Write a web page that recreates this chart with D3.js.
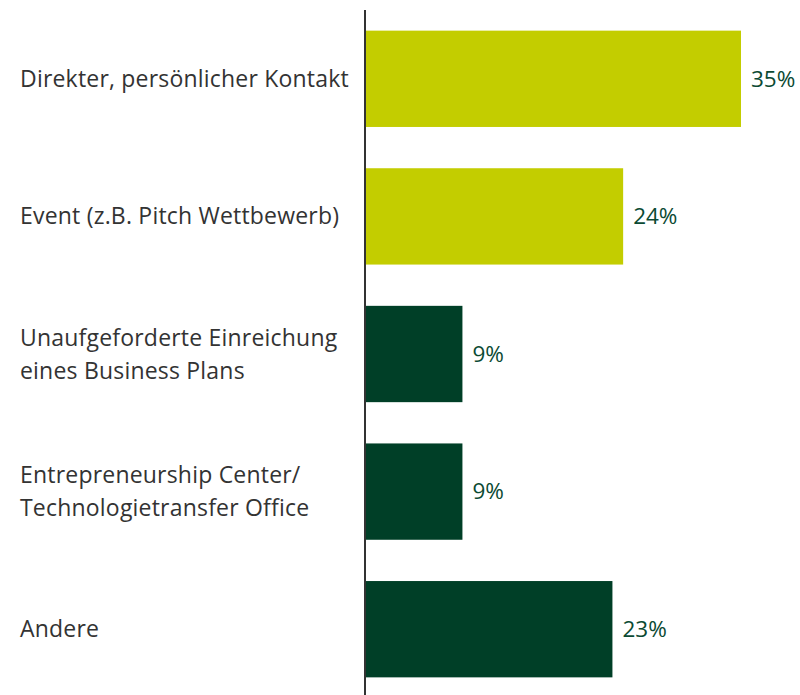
<!DOCTYPE html>
<html>
<head>
<meta charset="utf-8">
<script src="https://cdn.jsdelivr.net/npm/d3@7"></script>
<style>
  body { margin: 0; background: #fff; }
  text { font-family: "Open Sans", sans-serif; }
</style>
</head>
<body>
<div id="chart"></div>
<script>
const categories = [
  ["Direkter, persönlicher Kontakt"],
  ["Event (z.B. Pitch Wettbewerb)"],
  ["Unaufgeforderte Einreichung", "eines Business Plans"],
  ["Entrepreneurship Center/", "Technologietransfer Office"],
  ["Andere"]
];
const values = [35, 24, 9, 9, 23];
const barColors = ["#c3cd00", "#c3cd00", "#003f27", "#003f27", "#003f27"];

const width = 800, height = 695;
const x0 = 365;

const svg = d3.select("#chart").append("svg")
  .attr("width", width).attr("height", height);

const y = d3.scaleBand()
  .domain(d3.range(categories.length))
  .range([10, 698])
  .paddingInner(0.3)
  .paddingOuter(0.15);

const x = d3.scaleLinear().domain([0, 35]).range([x0 + 1, x0 + 1 + 375]);

// bars
svg.selectAll(".bar")
  .data(values)
  .enter().append("rect")
  .attr("class", "bar")
  .attr("x", x(0))
  .attr("y", (d, i) => y(i))
  .attr("width", d => x(d) - x(0))
  .attr("height", y.bandwidth())
  .attr("fill", (d, i) => barColors[i]);

// value labels
svg.selectAll(".val")
  .data(values)
  .enter().append("text")
  .attr("class", "val")
  .attr("x", d => x(d) + 10)
  .attr("y", (d, i) => y(i) + y.bandwidth() / 2)
  .attr("dy", "0.35em")
  .attr("font-size", 22.5)
  .attr("fill", "#0b4a33")
  .text(d => d + "%");

// category labels
const lab = svg.selectAll(".cat")
  .data(categories)
  .enter().append("text")
  .attr("class", "cat")
  .attr("x", 20)
  .attr("font-size", 23)
  .attr("letter-spacing", 0.2)
  .attr("fill", "#333");

lab.each(function(lines, i) {
  const cy = y(i) + y.bandwidth() / 2;
  const lh = 33;
  const top = cy - (lines.length - 1) * lh / 2;
  d3.select(this).selectAll("tspan")
    .data(lines)
    .enter().append("tspan")
    .attr("x", 20)
    .attr("y", (d, j) => top + j * lh)
    .attr("dy", "0.35em")
    .text(d => d);
});

// axis line
svg.append("line")
  .attr("x1", x0).attr("x2", x0)
  .attr("y1", 10).attr("y2", height)
  .attr("stroke", "#333")
  .attr("stroke-width", 2);
</script>
</body>
</html>
